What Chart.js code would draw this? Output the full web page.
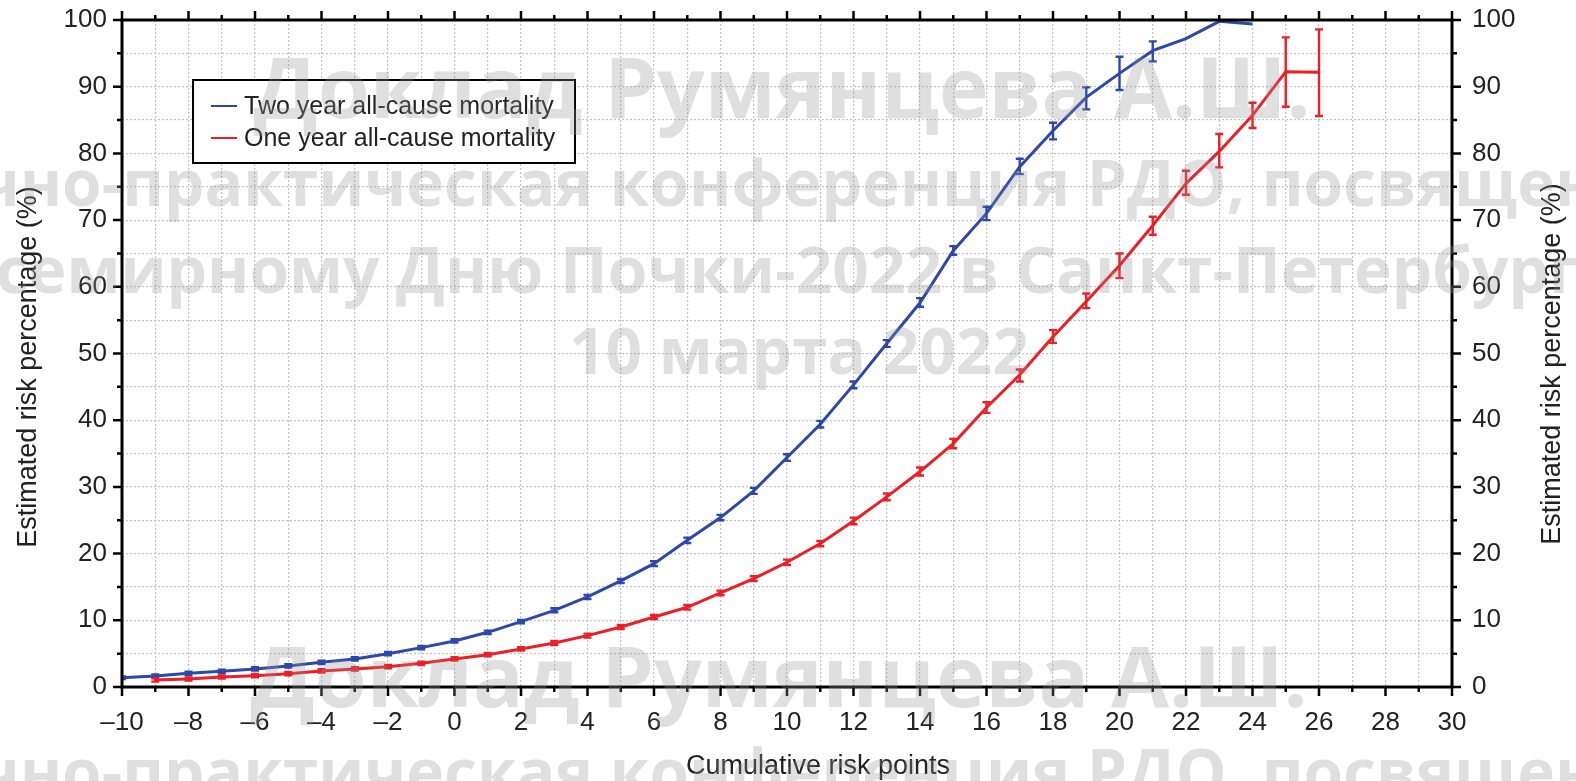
<!DOCTYPE html>
<html><head><meta charset="utf-8">
<script src="https://cdn.jsdelivr.net/npm/chart.js@4/dist/chart.umd.min.js"></script>
<style>html,body{margin:0;padding:0;background:#fff;}canvas{display:block;}</style>
</head><body>
<canvas id="c" width="1576" height="781"></canvas>
<script>
// ---- data ----
const seriesLabels = ['Two year all-cause mortality', 'One year all-cause mortality'];

const twoYearPoints = [-10,-9,-8,-7,-6,-5,-4,-3,-2,-1,0,1,2,3,4,5,6,7,8,9,10,11,12,13,14,15,16,17,18,19,20,21,22,23,24];
const twoYearRisk   = [1.4,1.65,2.05,2.35,2.7,3.15,3.7,4.2,5.0,5.9,6.9,8.2,9.8,11.5,13.5,15.9,18.5,22.0,25.4,29.4,34.4,39.4,45.3,51.5,57.6,65.4,71.0,78.0,83.4,88.4,92.0,95.4,97.2,99.8,99.4];
const twoYearLow    = [1.2,1.4,1.8,2.1,2.45,2.9,3.45,3.95,4.75,5.65,6.65,7.95,9.55,11.2,13.2,15.6,18.15,21.6,25.0,28.95,33.9,38.9,44.8,51.0,57.0,64.8,70.0,76.9,82.1,86.6,89.5,93.8,null,null,null];
const twoYearHigh   = [1.6,1.9,2.3,2.6,2.95,3.4,3.95,4.45,5.25,6.15,7.15,8.45,10.05,11.8,13.8,16.2,18.85,22.4,25.8,29.85,34.9,39.9,45.8,52.0,58.3,66.1,72.0,79.2,84.6,89.9,94.5,96.8,null,null,null];

const oneYearPoints = [-9,-8,-7,-6,-5,-4,-3,-2,-1,0,1,2,3,4,5,6,7,8,9,10,11,12,13,14,15,16,17,18,19,20,21,22,23,24,25,26];
const oneYearRisk   = [1.05,1.2,1.5,1.7,2.0,2.4,2.7,3.05,3.55,4.2,4.85,5.7,6.6,7.7,9.0,10.5,11.95,14.1,16.25,18.7,21.5,24.9,28.5,32.3,36.5,41.9,46.8,52.5,57.8,63.2,69.2,75.5,80.3,85.7,92.25,92.15];
const oneYearLow    = [0.8,0.95,1.25,1.45,1.75,2.15,2.45,2.8,3.3,3.95,4.6,5.45,6.3,7.4,8.7,10.2,11.6,13.75,15.9,18.3,21.1,24.4,28.0,31.7,35.8,41.1,45.8,51.6,56.8,61.3,67.8,73.8,77.9,83.8,87.0,85.6];
const oneYearHigh   = [1.3,1.45,1.75,1.95,2.25,2.65,2.95,3.3,3.8,4.45,5.1,5.95,6.9,8.0,9.3,10.8,12.3,14.45,16.6,19.1,21.9,25.4,29.0,32.9,37.2,42.7,47.6,53.5,59.0,65.0,70.5,77.4,82.9,87.6,97.4,98.6];

const xMin = -10, xMax = 30, xStep = 1;
const yMin = 0, yMax = 100, yStep = 5;

const xTitle = 'Cumulative risk points';
const yTitle = 'Estimated risk percentage (%)';

const BLUE = 'rgb(44,72,170)';
const RED = 'rgb(238,30,38)';
const FONT = "'Liberation Sans', Arial, sans-serif";

const errorRanges = [
  {low: twoYearLow, high: twoYearHigh},
  {low: oneYearLow, high: oneYearHigh}
];

function fmtX(v){
  if (v % 2 !== 0) return '';
  return v < 0 ? '\u2013' + Math.abs(v) : String(v);
}
function fmtY(v){ return v % 10 === 0 ? String(v) : ''; }

const errorBarPlugin = {
  id: 'errorBars',
  afterDatasetsDraw(chart){
    const ctx = chart.ctx, xs = chart.scales.x, ys = chart.scales.y, a = chart.chartArea;
    ctx.save();
    ctx.beginPath(); ctx.rect(a.left, a.top - 4, a.right - a.left, a.bottom - a.top + 8); ctx.clip();
    chart.data.datasets.forEach((ds, i) => {
      const r = errorRanges[i];
      ctx.strokeStyle = ds.borderColor; ctx.lineWidth = 2.4; ctx.lineCap = 'butt';
      ds.data.forEach((p, j) => {
        const lo = r.low[j], hi = r.high[j];
        if (lo == null || hi == null) return;
        const px = xs.getPixelForValue(p.x);
        const yl = ys.getPixelForValue(lo), yh = ys.getPixelForValue(hi);
        ctx.beginPath();
        ctx.moveTo(px, yl); ctx.lineTo(px, yh);
        ctx.moveTo(px - 4, yl); ctx.lineTo(px + 4, yl);
        ctx.moveTo(px - 4, yh); ctx.lineTo(px + 4, yh);
        ctx.stroke();
      });
    });
    ctx.restore();
  }
};

const framePlugin = {
  id: 'frame',
  afterDraw(chart){
    const ctx = chart.ctx, a = chart.chartArea, xs = chart.scales.x, ys = chart.scales.y;
    ctx.save();
    ctx.strokeStyle = '#000'; ctx.lineWidth = 3;
    ctx.strokeRect(a.left, a.top, a.right - a.left, a.bottom - a.top);
    ctx.lineWidth = 2.5;
    ctx.beginPath();
    xs.ticks.forEach(t => {
      const px = xs.getPixelForValue(t.value);
      const len = (t.value % 2 === 0) ? 9 : 5;
      ctx.moveTo(px, a.bottom); ctx.lineTo(px, a.bottom + len);
      ctx.moveTo(px, a.top); ctx.lineTo(px, a.top - len);
    });
    ys.ticks.forEach(t => {
      const py = ys.getPixelForValue(t.value);
      const len = (t.value % 10 === 0) ? 9 : 5;
      ctx.moveTo(a.left, py); ctx.lineTo(a.left - len, py);
      ctx.moveTo(a.right, py); ctx.lineTo(a.right + len, py);
    });
    ctx.stroke();

    // axis titles
    ctx.fillStyle = '#222';
    ctx.font = '27px ' + FONT;
    ctx.textAlign = 'center'; ctx.textBaseline = 'alphabetic';
    ctx.fillText(xTitle, 818, 774);
    ctx.textBaseline = 'middle';
    ctx.save(); ctx.translate(29, 367); ctx.rotate(-Math.PI/2); ctx.fillText(yTitle, 0, 0); ctx.restore();
    ctx.save(); ctx.translate(1553, 364); ctx.rotate(-Math.PI/2); ctx.fillText(yTitle, 0, 0); ctx.restore();

    // legend
    const bx = 193, by = 80, bw = 382, bh = 83;
    ctx.fillStyle = '#fff'; ctx.fillRect(bx, by, bw, bh);
    ctx.strokeStyle = '#000'; ctx.lineWidth = 2; ctx.strokeRect(bx, by, bw, bh);
    ctx.font = '25px ' + FONT; ctx.textAlign = 'left'; ctx.textBaseline = 'middle';
    chart.data.datasets.forEach((ds, i) => {
      const yy = 106 + i * 32;
      ctx.strokeStyle = ds.borderColor; ctx.lineWidth = 2;
      ctx.beginPath(); ctx.moveTo(211, yy); ctx.lineTo(237, yy); ctx.stroke();
      ctx.fillStyle = '#222';
      ctx.fillText(ds.label, 244, yy + 1);
    });
    ctx.restore();
  }
};

const watermarkPlugin = {
  id: 'watermark',
  afterDraw(chart){
    const ctx = chart.ctx;
    const lines = [
      ['Доклад Румянцева А.Ш.', 782, 118, 84],
      ['Научно-практическая конференция РДО, посвященная', 785, 206, 64],
      ['Всемирному Дню Почки-2022 в Санкт-Петербурге', 785, 293, 64],
      ['10 марта 2022', 799, 374, 64],
      ['Доклад Румянцева А.Ш.', 779, 707, 84],
      ['Научно-практическая конференция РДО, посвященная', 785, 795, 64]
    ];
    ctx.save();
    ctx.fillStyle = 'rgba(150,150,150,0.3)';
    ctx.textAlign = 'center'; ctx.textBaseline = 'alphabetic';
    lines.forEach(([t, x, y, s]) => {
      ctx.font = 'bold ' + s + "px 'Open Sans', 'DejaVu Sans', sans-serif";
      ctx.fillText(t, x, y);
    });
    ctx.restore();
  }
};

const gridCommon = {color: 'rgba(175,175,175,0.75)', lineWidth: 1.2, drawTicks: false};
const noPad = s => { s.paddingTop = 0; s.paddingBottom = 0; };

new Chart(document.getElementById('c'), {
  type: 'line',
  data: {
    datasets: [
      {label: seriesLabels[0], data: twoYearPoints.map((x, i) => ({x, y: twoYearRisk[i]})),
       borderColor: BLUE, backgroundColor: BLUE, borderWidth: 3, pointRadius: 0, tension: 0, fill: false},
      {label: seriesLabels[1], data: oneYearPoints.map((x, i) => ({x, y: oneYearRisk[i]})),
       borderColor: RED, backgroundColor: RED, borderWidth: 3, pointRadius: 0, tension: 0, fill: false}
    ]
  },
  options: {
    responsive: false, animation: false, devicePixelRatio: 1,
    layout: {padding: {top: 20, left: 0, right: 0, bottom: 0}},
    plugins: {legend: {display: false}, tooltip: {enabled: false}},
    scales: {
      x: {
        type: 'linear', position: 'bottom', min: xMin, max: xMax,
        grid: gridCommon, border: {display: false, dash: [2, 2]},
        ticks: {stepSize: xStep, autoSkip: false, maxRotation: 0, maxTicksLimit: 100,
                padding: 20, color: '#222', font: {family: FONT, size: 26}, callback: v => fmtX(v)},
        afterFit: s => { s.height = 94; s.paddingLeft = 0; s.paddingRight = 0; }
      },
      y: {
        type: 'linear', position: 'left', min: yMin, max: yMax,
        grid: gridCommon, border: {display: false, dash: [2, 2]},
        ticks: {stepSize: yStep, autoSkip: false, maxTicksLimit: 100,
                padding: 15, color: '#222', font: {family: FONT, size: 26}, callback: v => fmtY(v)},
        afterFit: s => { s.width = 122; noPad(s); }
      },
      y2: {
        type: 'linear', position: 'right', min: yMin, max: yMax,
        grid: {display: false, drawTicks: false}, border: {display: false},
        ticks: {stepSize: yStep, autoSkip: false, maxTicksLimit: 100,
                padding: 20, color: '#222', font: {family: FONT, size: 26}, callback: v => fmtY(v)},
        afterFit: s => { s.width = 124; noPad(s); }
      }
    }
  },
  plugins: [errorBarPlugin, framePlugin, watermarkPlugin]
});
</script>
</body></html>
